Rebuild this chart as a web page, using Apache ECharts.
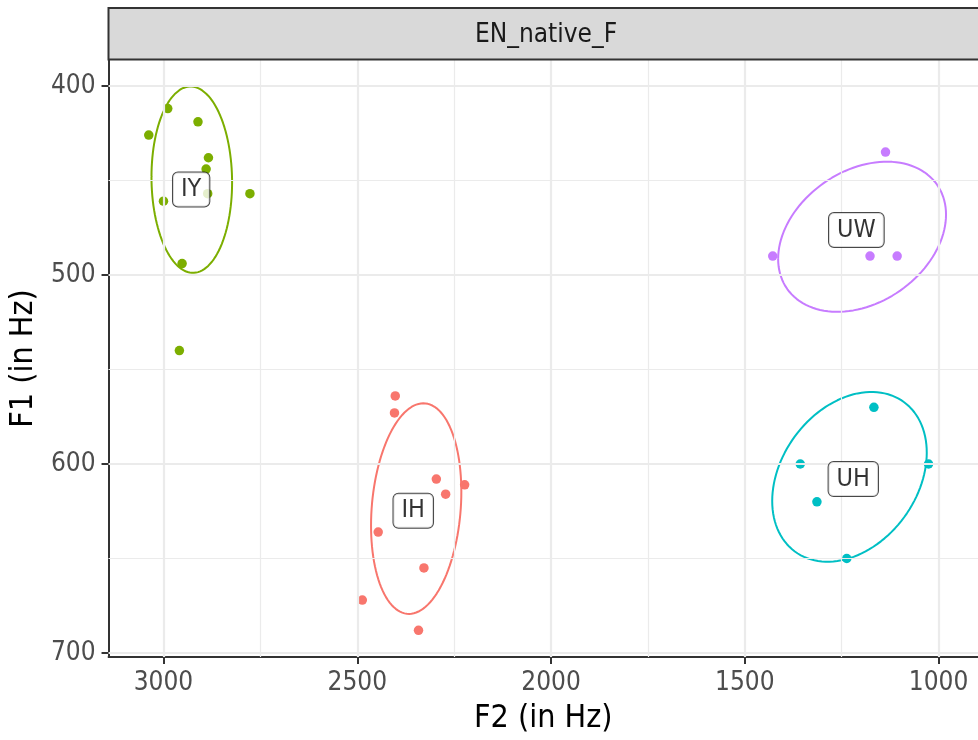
<!DOCTYPE html>
<html>
<head>
<meta charset="utf-8">
<title>EN_native_F</title>
<script src="https://cdn.jsdelivr.net/npm/echarts@6/dist/echarts.min.js"></script>
<style>
  html, body { margin: 0; padding: 0; background: #fff; }
  #vowelChart { width: 978px; height: 740px; }
</style>
</head>
<body>
<div id="vowelChart"></div>
<script>
// tick values
var xTicks = [3000, 2500, 2000, 1500, 1000];
var xMinor = [2750, 2250, 1750, 1250];
var yTicks = [400, 500, 600, 700];
var yMinor = [450, 550, 650];

var vowels = ['IH', 'IY', 'UH', 'UW'];
var vowelColors = ['#F8766D', '#7CAE00', '#00BFC4', '#C77CFF'];

// F2 / F1 per token (Hz)
var ihF2 = [2402, 2404, 2296, 2223, 2272, 2446, 2328, 2487, 2342];
var ihF1 = [564, 573, 608, 611, 616, 636, 655, 672, 688];
var iyF2 = [2989, 2911, 3038, 2884, 2890, 2777, 3000, 2952, 2959, 2886];
var iyF1 = [412, 419, 426, 438, 444, 457, 461, 494, 540, 457];
var uhF2 = [1167, 1357, 1026, 1314, 1237];
var uhF1 = [570, 600, 600, 620, 650];
var uwF2 = [1137, 1428, 1177, 1107];
var uwF1 = [435, 490, 490, 490];

// ellipse: centre F2, centre F1, F2 half-extent, F1 half-extent, cos(phase)
var ellIH = [2348, 623.6, 116.5, 55.7, 0.16];
var ellIY = [2927, 449.6, 104, 49.3, -0.03];
var ellUH = [1230, 606.8, 199.4, 44.9, 0.285];
var ellUW = [1197.5, 479.8, 216.6, 39.7, 0.295];

var FONT = '"DejaVu Sans Condensed", "DejaVu Sans", sans-serif';

document.addEventListener('DOMContentLoaded', function () {
    var chartDom = document.getElementById('vowelChart');
    var myChart = echarts.init(chartDom, null, { renderer: 'canvas' });
    var option;

    var f2s = [ihF2, iyF2, uhF2, uwF2];
    var f1s = [ihF1, iyF1, uhF1, uwF1];
    var ells = [ellIH, ellIY, ellUH, ellUW];

    function mean(a) {
        var s = 0;
        for (var i = 0; i < a.length; i++) s += a[i];
        return s / a.length;
    }

    function ellipsePath(e) {
        var pts = [];
        var phi = Math.acos(e[4]);
        for (var k = 0; k <= 120; k++) {
            var t = (k / 120) * Math.PI * 2;
            pts.push([e[0] + e[2] * Math.cos(t), e[1] + e[3] * Math.cos(t - phi)]);
        }
        return pts;
    }

    // grid lines
    var gridLines = [];
    xTicks.forEach(function (v) { gridLines.push({ xAxis: v, lineStyle: { width: 2.2 } }); });
    xMinor.forEach(function (v) { gridLines.push({ xAxis: v, lineStyle: { width: 1.2 } }); });
    yTicks.forEach(function (v) { gridLines.push({ yAxis: v, lineStyle: { width: 2.2 } }); });
    yMinor.forEach(function (v) { gridLines.push({ yAxis: v, lineStyle: { width: 1.2 } }); });

    var series = [{
        type: 'scatter',
        data: [],
        z: 1,
        silent: true,
        markLine: {
            silent: true,
            symbol: ['none', 'none'],
            label: { show: false },
            lineStyle: { color: '#EBEBEB', type: 'solid' },
            data: gridLines
        }
    }];

    vowels.forEach(function (v, i) {
        var pts = f2s[i].map(function (x, j) { return [x, f1s[i][j]]; });
        series.push({
            name: v,
            type: 'scatter',
            data: pts,
            symbolSize: 9.5,
            itemStyle: { color: vowelColors[i], opacity: 1 },
            z: 3
        });
        series.push({
            name: v + '_ellipse',
            type: 'line',
            data: ellipsePath(ells[i]),
            showSymbol: false,
            smooth: false,
            lineStyle: { color: vowelColors[i], width: 2 },
            z: 4
        });
    });

    // vowel labels at group means
    series.push({
        type: 'scatter',
        symbolSize: 0,
        z: 5,
        data: vowels.map(function (v, i) {
            return { value: [mean(f2s[i]), mean(f1s[i])], name: v };
        }),
        label: {
            show: true,
            position: 'inside',
            formatter: '{b}',
            fontFamily: FONT,
            fontSize: 25,
            color: '#000',
            backgroundColor: '#fff',
            borderColor: '#1a1a1a',
            borderWidth: 1,
            borderRadius: 5,
            padding: [5, 8, 4, 8]
        }
    });

    function plain(v) { return String(Math.round(v)); }

    option = {
        backgroundColor: '#fff',
        animation: false,
        grid: { left: 108, right: 0, top: 60, bottom: 80 },
        xAxis: {
            type: 'value',
            inverse: true,
            min: 898.4,
            max: 3141.8,
            name: 'F2 (in Hz)',
            nameLocation: 'middle',
            nameGap: 46,
            nameTextStyle: { fontFamily: FONT, fontSize: 32, color: '#000' },
            axisLine: { show: true, onZero: false, lineStyle: { color: '#333', width: 2 } },
            axisTick: { show: true, customValues: xTicks, length: 7, lineStyle: { color: '#333', width: 2 } },
            axisLabel: { customValues: xTicks, formatter: plain, fontFamily: FONT, fontSize: 26, color: '#4D4D4D', margin: 13 },
            splitLine: { show: false }
        },
        yAxis: {
            type: 'value',
            inverse: true,
            min: 386.3,
            max: 702.1,
            name: 'F1 (in Hz)',
            nameLocation: 'middle',
            nameGap: 63,
            nameTextStyle: { fontFamily: FONT, fontSize: 32, color: '#000' },
            axisLine: { show: true, onZero: false, lineStyle: { color: '#333', width: 2 } },
            axisTick: { show: true, customValues: yTicks, length: 7, lineStyle: { color: '#333', width: 2 } },
            axisLabel: { customValues: yTicks, formatter: plain, fontFamily: FONT, fontSize: 26, color: '#4D4D4D', margin: 13 },
            splitLine: { show: false }
        },
        graphic: [
            {
                type: 'rect',
                shape: { x: 108.5, y: 8, width: 880, height: 51.5 },
                style: { fill: '#D9D9D9', stroke: '#333', lineWidth: 2 },
                z: 10
            },
            {
                type: 'text',
                x: 546,
                y: 35,
                style: {
                    text: 'EN_native_F',
                    fontFamily: FONT,
                    fontSize: 26,
                    fill: '#1A1A1A',
                    textAlign: 'center',
                    textVerticalAlign: 'middle'
                },
                z: 11
            }
        ],
        series: series
    };

    option && myChart.setOption(option);
});
</script>
</body>
</html>
